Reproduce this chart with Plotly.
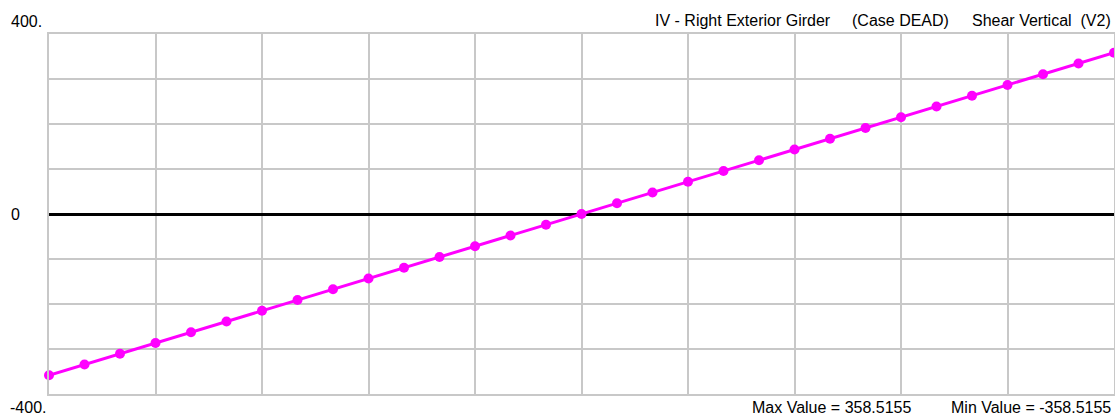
import plotly.graph_objects as go

stations = list(range(31))
shear_v2 = [-358.52, -334.61, -310.71, -286.81, -262.91, -239.01, -215.11, -191.21,
            -167.31, -143.41, -119.51, -95.60, -71.70, -47.80, -23.90, 0.00,
            23.90, 47.80, 71.70, 95.60, 119.51, 143.41, 167.31, 191.21,
            215.11, 239.01, 262.91, 286.81, 310.71, 334.61, 358.52]
y_labels = ["400.", "0", "-400."]
title_parts = ["IV - Right Exterior Girder", "(Case DEAD)", "Shear Vertical  (V2)"]
footer_parts = ["Max Value = 358.5155", "Min Value = -358.5155"]

FONT = "Liberation Sans, Arial, sans-serif"
FS = 16

fig = go.Figure()
fig.add_trace(go.Scatter(
    x=stations, y=shear_v2, mode="lines+markers",
    line=dict(color="#ff00ff", width=3),
    marker=dict(color="#ff00ff", size=10),
    cliponaxis=False, showlegend=False,
))

fig.update_layout(
    width=1115, height=416,
    margin=dict(l=49, r=1, t=34, b=22, autoexpand=False),
    paper_bgcolor="white", plot_bgcolor="white",
    font=dict(family=FONT, size=FS, color="black"),
    xaxis=dict(range=[0, 30], dtick=3, tick0=0, showgrid=True, gridcolor="#c8c8c8",
               gridwidth=1.5, showticklabels=False, zeroline=False, ticks="",
               showline=True, linecolor="#c8c8c8", linewidth=2, mirror=True),
    yaxis=dict(range=[-400, 400], dtick=100, tick0=0, showgrid=True, gridcolor="#c8c8c8",
               gridwidth=1.5, showticklabels=False, zeroline=True, zerolinecolor="black",
               zerolinewidth=3, ticks="",
               showline=True, linecolor="#c8c8c8", linewidth=2, mirror=True),
)

ann = [
    (y_labels[0], 9, 22, "left"),
    (y_labels[1], 9, 214, "left"),
    (y_labels[2], 8, 407, "left"),
    (title_parts[0], 653, 21, "left"),
    (title_parts[1], 850, 21, "left"),
    (title_parts[2], 1113, 21, "right"),
    (footer_parts[0], 750, 407, "left"),
    (footer_parts[1], 1113, 407, "right"),
]
for text, px, py, anchor in ann:
    fig.add_annotation(text=text, xref="paper", yref="paper",
                       x=(px - 49) / (1114 - 49), y=(394 - py) / (394 - 34),
                       xanchor=anchor, yanchor="middle", showarrow=False,
                       font=dict(family=FONT, size=FS, color="black"))

fig.write_html("out.html", config={"displayModeBar": False},
               post_script="document.body.style.margin='0';")
